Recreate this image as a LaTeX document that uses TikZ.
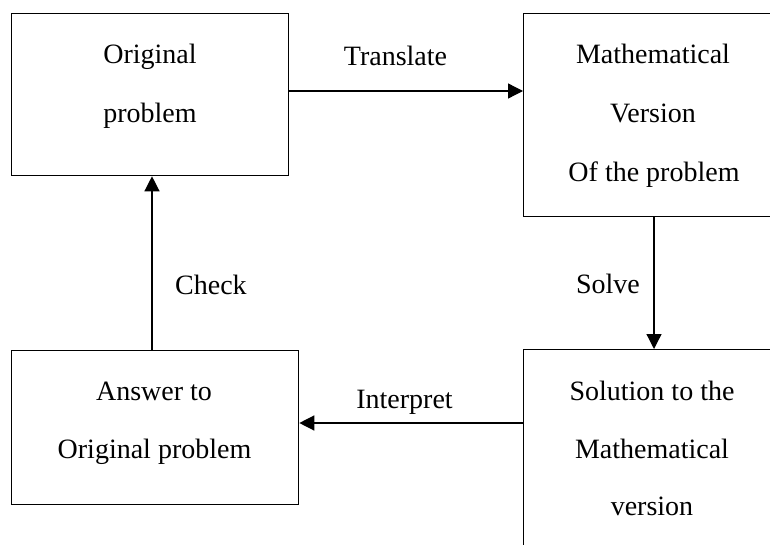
\documentclass[tikz,border=0pt]{standalone}
\usepackage{fontspec}
\setmainfont{Liberation Serif}
\usetikzlibrary{arrows.meta}
\begin{document}
\begin{tikzpicture}[x=1pt,y=-1pt,
  box/.style={draw, line width=1.3pt, rectangle, anchor=north west, inner sep=0pt},
  txt/.style={anchor=base, inner sep=0pt, font=\fontsize{28}{34}\selectfont},
  flow/.style={line width=1.3pt, -{Triangle[length=15pt,width=15pt]}}]
\useasboundingbox (0,0) rectangle (770,545);
\clip (0,0) rectangle (770,545);
\fill[white] (0,0) rectangle (770,545);

% the four stages of the modelling cycle
\node[box, minimum width=277pt, minimum height=162pt] (orig) at (11,13) {};
\node[box, minimum width=300pt, minimum height=203pt] (math) at (523,13) {};
\node[box, minimum width=287pt, minimum height=154pt] (ans) at (11,350) {};
\node[box, minimum width=300pt, minimum height=250pt] (sol) at (523,349) {};

% box texts
\node[txt] (o1) at (150,64) {Original};
\node[txt] (o2) at (150,122.5) {problem};
\node[txt] (m1) at (653,64) {Mathematical};
\node[txt] (m2) at (653,123) {Version};
\node[txt] (m3) at (654,181.5) {Of the problem};
\node[txt] (a1) at (154,400) {Answer to};
\node[txt] (a2) at (154.5,458) {Original problem};
\node[txt] (s1) at (652,400) {Solution to the};
\node[txt] (s2) at (652,458) {Mathematical};
\node[txt] (s3) at (652,515) {version};

% step labels
\node[txt] (lt) at (395.5,66) {Translate};
\node[txt, anchor=base west] (lc) at (175,294) {Check};
\node[txt, anchor=base east] (ls) at (640,293) {Solve};
\node[txt] (li) at (404.5,408) {Interpret};

% connectors
\coordinate (ty) at (0,91);
\coordinate (sx) at (654,0);
\coordinate (iy) at (0,423);
\coordinate (cx) at (152,0);
\draw[flow] (orig.east |- ty) -- (math.west |- ty);
\draw[flow] (math.south -| sx) -- (sol.north -| sx);
\draw[flow] (sol.west |- iy) -- (ans.east |- iy);
\draw[flow] (ans.north -| cx) -- (orig.south -| cx);
\end{tikzpicture}
\end{document}
